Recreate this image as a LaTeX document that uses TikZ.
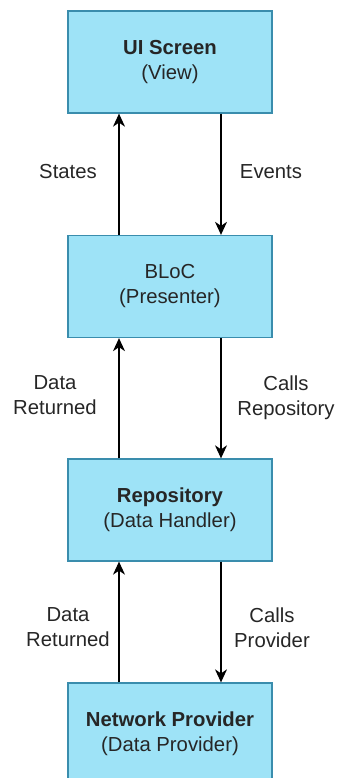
\documentclass[tikz,border=0pt]{standalone}
\usepackage{fontspec}
\setmainfont{Liberation Sans}
\usetikzlibrary{arrows.meta}
\definecolor{boxfill}{HTML}{9EE3F7}
\definecolor{boxline}{HTML}{3A8DAD}
\begin{document}
\begin{tikzpicture}[x=1pt,y=-1pt,
  layer/.style={draw=boxline, line width=1.3pt, fill=boxfill, minimum width=204pt, minimum height=102pt, inner sep=0pt, align=center, font=\fontsize{20.3}{25}\selectfont, text=black!85},
  lbl/.style={align=center, font=\fontsize{20.3}{25}\selectfont, text=black!85, inner sep=0pt},
  conn/.style={line width=1.3pt, -{Stealth[length=13pt,width=12pt,inset=4pt]}}]
\useasboundingbox (0,0) rectangle (337,778);
\node[layer] (ui) at (170,62) {\textbf{UI Screen}\\(View)};
\node[layer] (bloc) at (170,286.5) {BLoC\\(Presenter)};
\node[layer] (repo) at (170,510) {\textbf{Repository}\\(Data Handler)};
\node[layer] (net) at (170,734) {\textbf{Network Provider}\\(Data Provider)};
\draw[conn] (bloc.north -| 119,0) -- (ui.south -| 119,0);
\draw[conn] (ui.south -| 221,0) -- (bloc.north -| 221,0);
\draw[conn] (repo.north -| 119,0) -- (bloc.south -| 119,0);
\draw[conn] (bloc.south -| 221,0) -- (repo.north -| 221,0);
\draw[conn] (net.north -| 119,0) -- (repo.south -| 119,0);
\draw[conn] (repo.south -| 221,0) -- (net.north -| 221,0);
\node[lbl] (states) at (68,172) {States};
\node[lbl] (events) at (271,172) {Events};
\node[lbl] (dr1) at (55,395) {Data\\Returned};
\node[lbl] (cr) at (286,398) {Calls\\Repository};
\node[lbl] (dr2) at (68,627) {Data\\Returned};
\node[lbl] (cp) at (272,628) {Calls\\Provider};
\end{tikzpicture}
\end{document}
